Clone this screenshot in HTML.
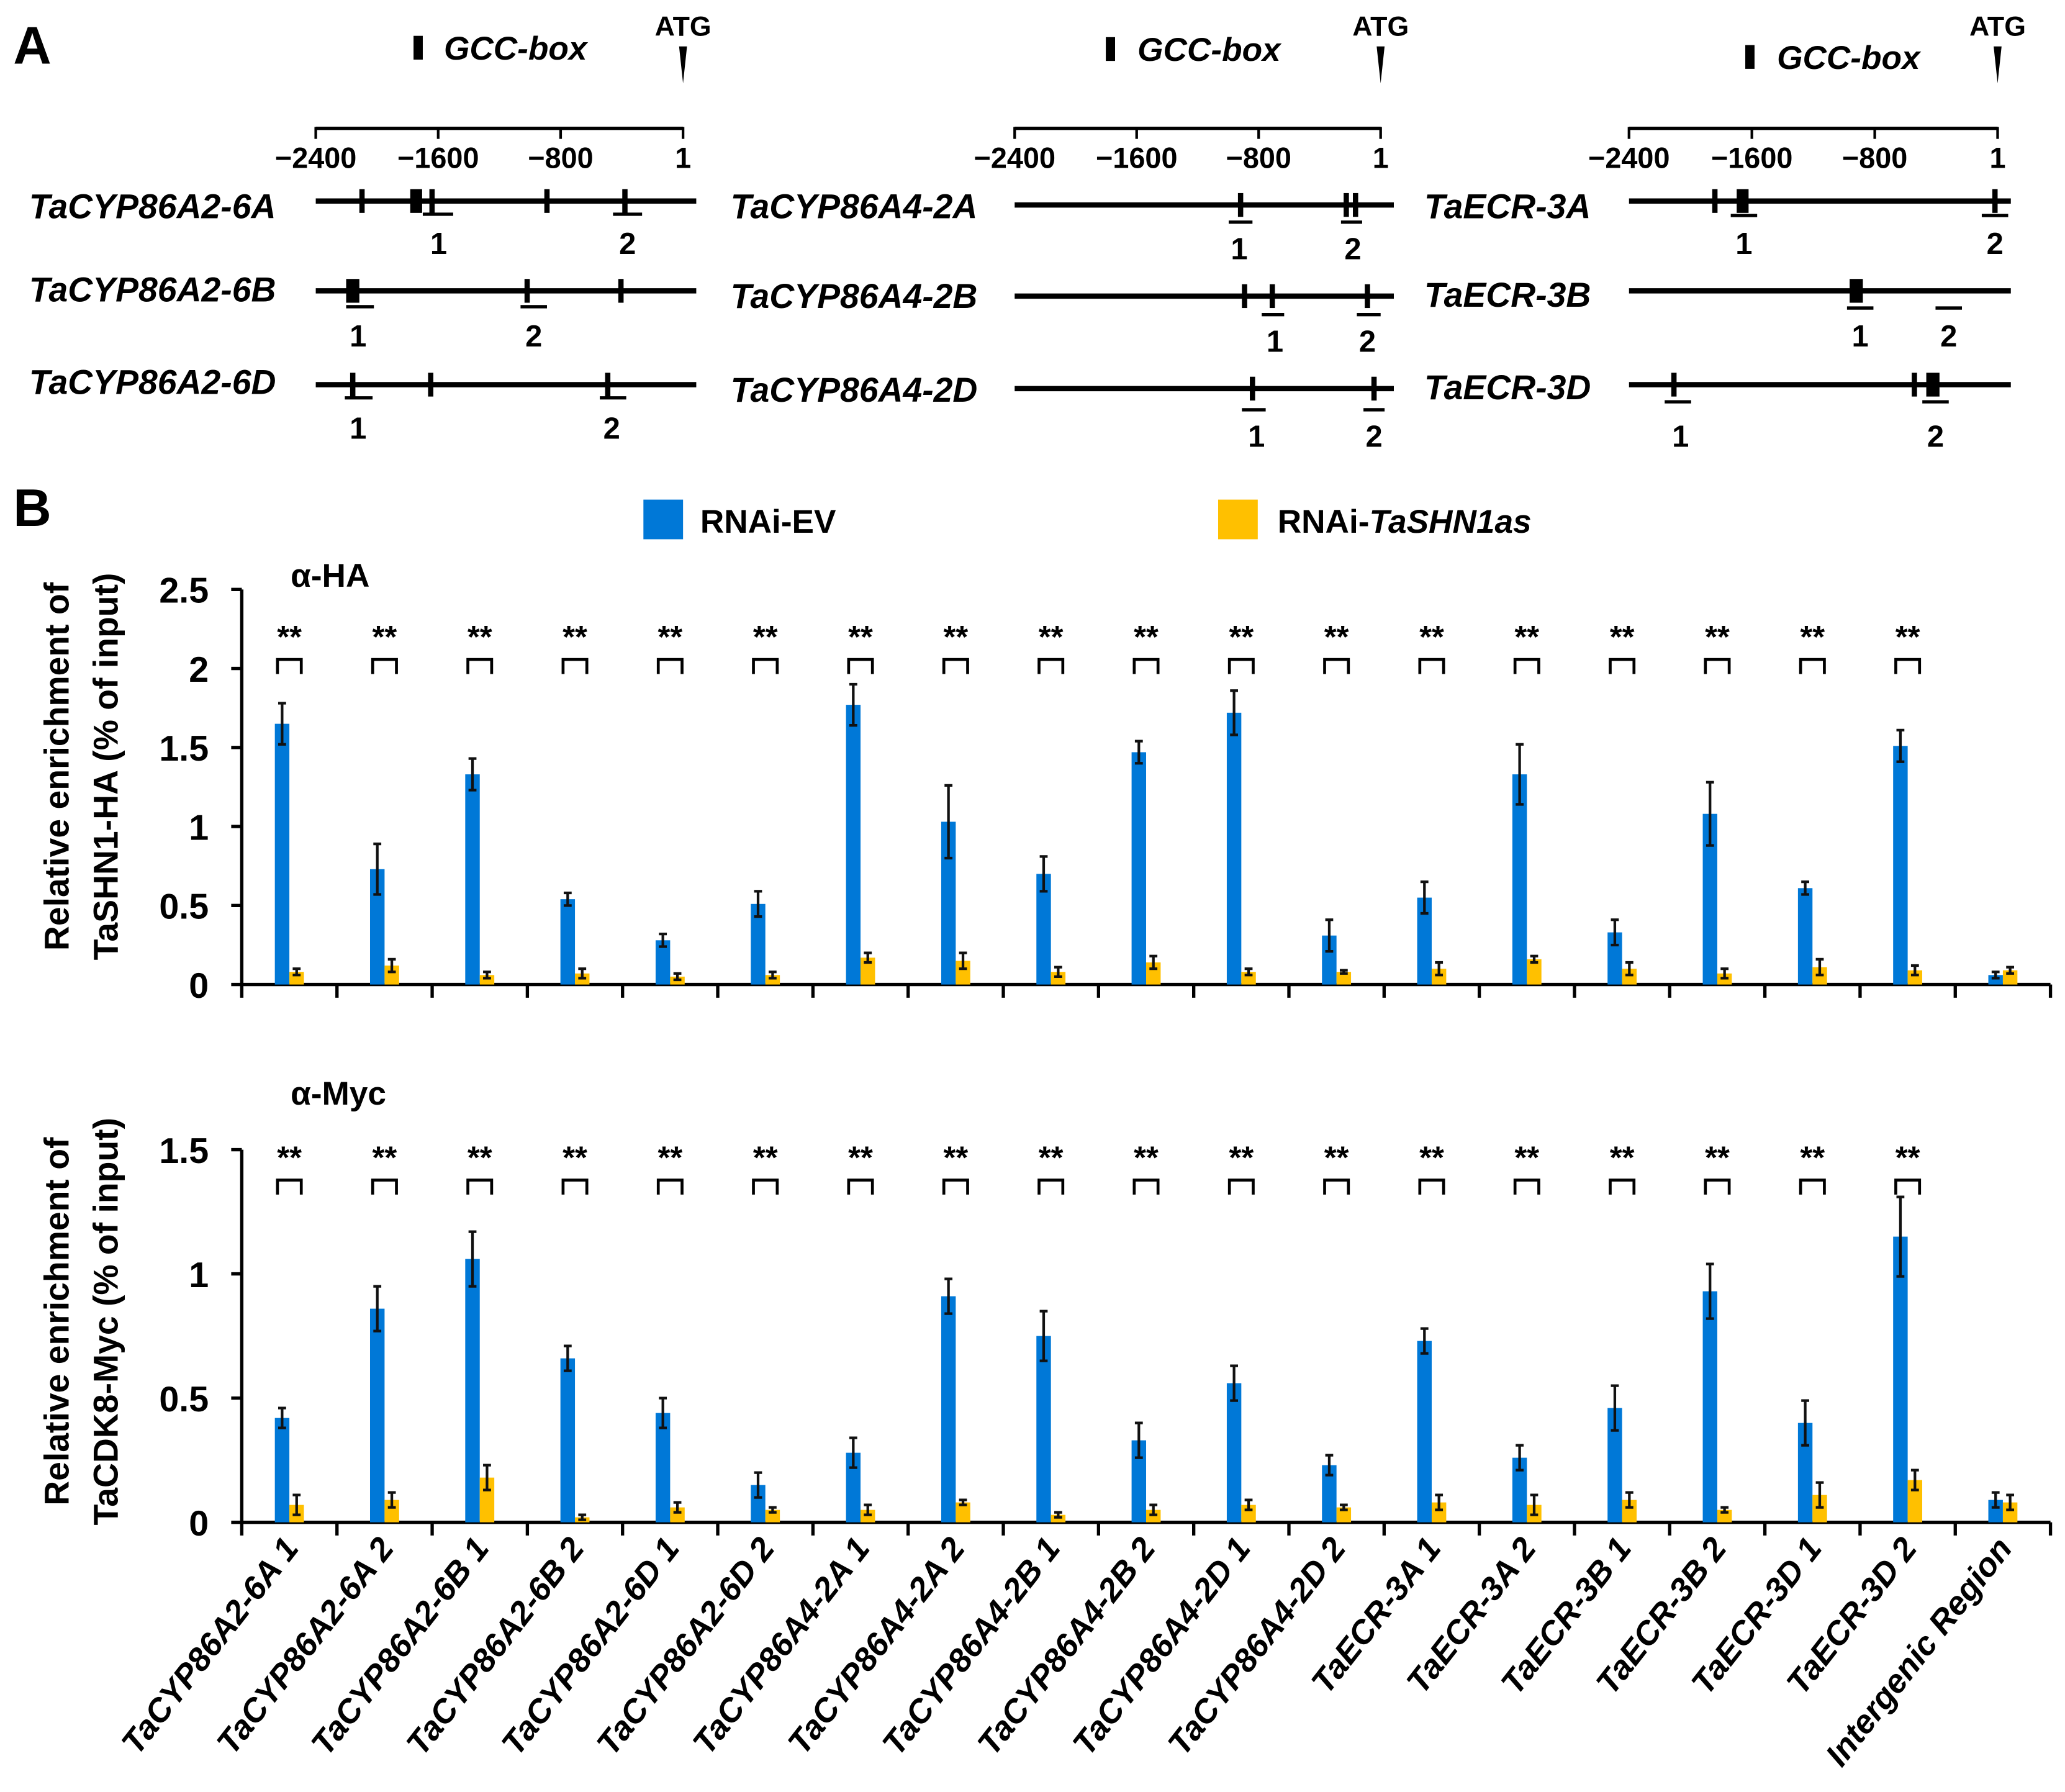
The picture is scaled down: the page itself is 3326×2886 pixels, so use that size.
<!DOCTYPE html>
<html><head><meta charset="utf-8"><style>
html,body{margin:0;padding:0;background:#fff}
svg{display:block}
text{font-family:"Liberation Sans",sans-serif;font-weight:bold;fill:#000}
</style></head><body>
<svg id="fig" xmlns="http://www.w3.org/2000/svg" width="3326" height="2886" viewBox="0 0 1563 1356">
<g id="panelA"></g>
<g id="panelB"></g>
</svg>
<script>
const categories=["TaCYP86A2-6A 1","TaCYP86A2-6A 2","TaCYP86A2-6B 1","TaCYP86A2-6B 2","TaCYP86A2-6D 1","TaCYP86A2-6D 2","TaCYP86A4-2A 1","TaCYP86A4-2A 2","TaCYP86A4-2B 1","TaCYP86A4-2B 2","TaCYP86A4-2D 1","TaCYP86A4-2D 2","TaECR-3A 1","TaECR-3A 2","TaECR-3B 1","TaECR-3B 2","TaECR-3D 1","TaECR-3D 2","Intergenic Region"];
const haEV=[1.65,0.73,1.33,0.54,0.28,0.51,1.77,1.03,0.70,1.47,1.72,0.31,0.55,1.33,0.33,1.08,0.61,1.51,0.06];
const haEVerr=[0.13,0.16,0.10,0.04,0.04,0.08,0.13,0.23,0.11,0.07,0.14,0.10,0.10,0.19,0.08,0.20,0.04,0.10,0.02];
const haSHN=[0.08,0.12,0.06,0.07,0.05,0.06,0.17,0.15,0.08,0.14,0.08,0.08,0.10,0.16,0.10,0.07,0.11,0.09,0.09];
const haSHNerr=[0.02,0.04,0.02,0.03,0.02,0.02,0.03,0.05,0.03,0.04,0.02,0.01,0.04,0.02,0.04,0.03,0.05,0.03,0.02];
const mycEV=[0.42,0.86,1.06,0.66,0.44,0.15,0.28,0.91,0.75,0.33,0.56,0.23,0.73,0.26,0.46,0.93,0.40,1.15,0.09];
const mycEVerr=[0.04,0.09,0.11,0.05,0.06,0.05,0.06,0.07,0.10,0.07,0.07,0.04,0.05,0.05,0.09,0.11,0.09,0.16,0.03];
const mycSHN=[0.07,0.09,0.18,0.02,0.06,0.05,0.05,0.08,0.03,0.05,0.07,0.06,0.08,0.07,0.09,0.05,0.11,0.17,0.08];
const mycSHNerr=[0.04,0.03,0.05,0.01,0.02,0.01,0.02,0.01,0.01,0.02,0.02,0.01,0.03,0.04,0.03,0.01,0.05,0.04,0.03];
const haTicks=[0,0.5,1,1.5,2,2.5];
const mycTicks=[0,0.5,1,1.5];
const sigFlags=[1,1,1,1,1,1,1,1,1,1,1,1,1,1,1,1,1,1,0];

const NS="http://www.w3.org/2000/svg";
function mk(tag,attrs,parent,txt){const e=document.createElementNS(NS,tag);for(const k in attrs)e.setAttribute(k,attrs[k]);if(txt!==undefined)e.textContent=txt;parent.appendChild(e);return e;}
const A=document.getElementById('panelA');
const B=document.getElementById('panelB');

// ---------- Panel A ----------
let t=mk('text',{x:10,y:48,'font-size':40},A,'A');


const diagrams=[
 {x0:239,x1:517,end:527,gx:313,gy:27,gtx:336,gty:45,atgY:27,
  genes:[{name:"TaCYP86A2-6A",ly:165,y:152,marks:[[274,4],[315,9],[327,4],[414,4],[473,4]],ul:[[320,343],[464,486]],uy:162,nums:[[332,"1"],[475,"2"]],ny:192},
         {name:"TaCYP86A2-6B",ly:228,y:220,marks:[[267,10],[399,4],[470,4]],ul:[[262,283],[394,414]],uy:232,nums:[[271,"1"],[404,"2"]],ny:262},
         {name:"TaCYP86A2-6D",ly:298,y:291,marks:[[267,4],[326,4],[460,4]],ul:[[261,282],[454,474]],uy:301,nums:[[271,"1"],[463,"2"]],ny:332}],lx:22},
 {x0:768,x1:1045,end:1055,gx:837,gy:28,gtx:861,gty:46,atgY:27,
  genes:[{name:"TaCYP86A4-2A",ly:165,y:155,marks:[[939,4],[1019,4],[1026,4]],ul:[[930,948],[1015,1031]],uy:168,nums:[[938,"1"],[1024,"2"]],ny:196},
         {name:"TaCYP86A4-2B",ly:233,y:224,marks:[[942,4],[963,4],[1035,4]],ul:[[955,972],[1027,1045]],uy:238,nums:[[965,"1"],[1035,"2"]],ny:266},
         {name:"TaCYP86A4-2D",ly:304,y:294,marks:[[948,4],[1040,4]],ul:[[940,958],[1032,1048]],uy:310,nums:[[951,"1"],[1040,"2"]],ny:338}],lx:553},
 {x0:1233,x1:1512,end:1522,gx:1321,gy:34,gtx:1345,gty:52,atgY:27,
  genes:[{name:"TaECR-3A",ly:165,y:152,marks:[[1298,4],[1319,9],[1510,4]],ul:[[1310,1330],[1500,1520]],uy:163,nums:[[1320,"1"],[1510,"2"]],ny:192},
         {name:"TaECR-3B",ly:232,y:220,marks:[[1405,10]],ul:[[1398,1418],[1465,1485]],uy:233,nums:[[1408,"1"],[1475,"2"]],ny:262},
         {name:"TaECR-3D",ly:302,y:291,marks:[[1267,4],[1449,4],[1463,10]],ul:[[1260,1280],[1455,1475]],uy:304,nums:[[1272,"1"],[1465,"2"]],ny:338}],lx:1078}
];
const scaleLabels=["\u22122400","\u22121600","\u2212800","1"];
diagrams.forEach((d,di)=>{
  const g=mk('g',{},A);
  
  
  let r=mk('rect',{x:d.gx,y:d.gy,width:7,height:18,fill:'#000'},g);
  
  
  let tt=mk('text',{x:d.gtx,y:d.gty,'font-size':25,'font-style':'italic'},g,'GCC-box');
  
  
  tt=mk('text',{x:d.x1,y:d.atgY,'font-size':21},g,'ATG');
  tt.setAttribute('text-anchor','middle');
  
  
  let p=mk('path',{d:`M${d.x1-3},35 L${d.x1+3},35 L${d.x1},63 Z`,fill:'#000'},g);
  
  
  const sc=mk('g',{},g);
  
  
  mk('line',{x1:d.x0,x2:d.x1,y1:97,y2:97,stroke:'#000','stroke-width':2.5},sc);
  for(let i=0;i<4;i++){const x=d.x0+(d.x1-d.x0)*i/3;
    mk('line',{x1:x,x2:x,y1:96,y2:105,stroke:'#000','stroke-width':2},sc);
    mk('text',{x:x,y:127,'font-size':22,'text-anchor':'middle'},sc,scaleLabels[i]);}
  d.genes.forEach(ge=>{
    const gg=mk('g',{},g);
    
    
    mk('text',{x:d.lx,y:ge.ly,'font-size':26,'font-style':'italic'},gg,ge.name);
    mk('line',{x1:d.x0,x2:d.end,y1:ge.y,y2:ge.y,stroke:'#000','stroke-width':4},gg);
    ge.marks.forEach(m=>mk('rect',{x:m[0]-m[1]/2,y:ge.y-9,width:m[1],height:18,fill:'#000'},gg));
    ge.ul.forEach(u=>mk('line',{x1:u[0],x2:u[1],y1:ge.uy,y2:ge.uy,stroke:'#000','stroke-width':2.5},gg));
    ge.nums.forEach(n=>mk('text',{x:n[0],y:ge.ny,'font-size':23,'text-anchor':'middle'},gg,n[1]));
  });
});

// ---------- Panel B ----------
t=mk('text',{x:10,y:398,'font-size':40},B,'B');


const leg=mk('g',{},B);


let le=mk('g',{},leg);


mk('rect',{x:487,y:378,width:30,height:30,fill:'#0078D7'},le);
mk('text',{x:530,y:403,'font-size':25},le,'RNAi-EV');
le=mk('g',{},leg);


mk('rect',{x:922,y:378,width:30,height:30,fill:'#FFC000'},le);
const lt=mk('text',{x:967,y:403,'font-size':25},le,'RNAi-');
mk('tspan',{'font-style':'italic'},lt,'TaSHN1as');

const AX0=183,AX1=1552,GW=(AX1-AX0)/categories.length;
function drawChart(cfg){
  const g=mk('g',{},B);
  
  
  const ymax=cfg.ticks[cfg.ticks.length-1];
  const yS=v=>cfg.y0-(cfg.y0-cfg.yTop)*v/ymax;
  const xC=i=>AX0+GW*(i+0.5);
  let tt=mk('text',{x:220,y:cfg.titleY,'font-size':25},g,cfg.title);
  
  
  const yt=mk('text',{transform:`translate(52,${cfg.labelY}) rotate(-90)`,'font-size':26,'text-anchor':'middle'},g);
  
  
  mk('tspan',{x:0,dy:0},yt,'Relative enrichment of');
  mk('tspan',{x:0,dy:37},yt,cfg.ylab2);
  const ya=mk('g',{},g);
  
  
  mk('line',{x1:AX0,x2:AX0,y1:cfg.yTop,y2:cfg.y0+1,stroke:'#000','stroke-width':2.5},ya);
  cfg.ticks.forEach(v=>{const y=yS(v);
    mk('line',{x1:AX0-8,x2:AX0,y1:y,y2:y,stroke:'#000','stroke-width':2.5},ya);
    mk('text',{x:AX0-25,y:y+10,'font-size':27,'text-anchor':'end'},ya,String(v));});
  const xa=mk('g',{},g);
  
  
  mk('line',{x1:AX0,x2:AX1,y1:cfg.y0,y2:cfg.y0,stroke:'#000','stroke-width':2.5},xa);
  for(let i=0;i<=categories.length;i++){const x=AX0+GW*i;
    mk('line',{x1:x,x2:x,y1:cfg.y0,y2:cfg.y0+10,stroke:'#000','stroke-width':2.5},xa);}
  const series=[[cfg.ev,cfg.everr,'#0078D7',-11,'ev'],[cfg.shn,cfg.shnerr,'#FFC000',0,'tashn1as']];
  categories.forEach((c,i)=>{
    series.forEach(s=>{
      const v=s[0][i],e=s[1][i],x=xC(i)+s[3];
      const b=mk('rect',{x:x,y:yS(v),width:11,height:cfg.y0-yS(v),fill:s[2]},g);
      
      
      const cx=x+5.5;
      const eb=mk('path',{d:`M${cx},${yS(v+e)} V${yS(Math.max(v-e,0))} M${cx-3},${yS(v+e)} H${cx+3} M${cx-3},${yS(Math.max(v-e,0))} H${cx+3}`,stroke:'#111','stroke-width':2,fill:'none'},g);
      
      
    });
    if(sigFlags[i]){
      const sg=mk('g',{},g);
      
      
      const x=xC(i);
      mk('text',{x:x,y:cfg.sigY,'font-size':24,'text-anchor':'middle'},sg,'**');
      mk('path',{d:`M${x-9},${cfg.sigY+20} V${cfg.sigY+9} H${x+9} V${cfg.sigY+20}`,stroke:'#000','stroke-width':2.2,fill:'none'},sg);
    }
  });
  return xC;
}
drawChart({name:'chart-alpha-ha',title:'\u03b1-HA',titleY:444,y0:745,yTop:446,ticks:haTicks,ev:haEV,everr:haEVerr,shn:haSHN,shnerr:haSHNerr,sigY:490,labelY:580,ylab2:'TaSHN1-HA  (% of input)'});
const xC=drawChart({name:'chart-alpha-myc',title:'\u03b1-Myc',titleY:836,y0:1152,yTop:870,ticks:mycTicks,ev:mycEV,everr:mycEVerr,shn:mycSHN,shnerr:mycSHNerr,sigY:884,labelY:1000,ylab2:'TaCDK8-Myc  (% of input)'});
const xl=mk('g',{},B);


categories.forEach((c,i)=>{
  const x=xC(i)+8,y=1172;
  const tx=mk('text',{transform:`translate(${x},${y}) rotate(-52)`,'font-size':25,'font-style':'italic','text-anchor':'end'},xl,c);
  
  
});
</script>
</body></html>
